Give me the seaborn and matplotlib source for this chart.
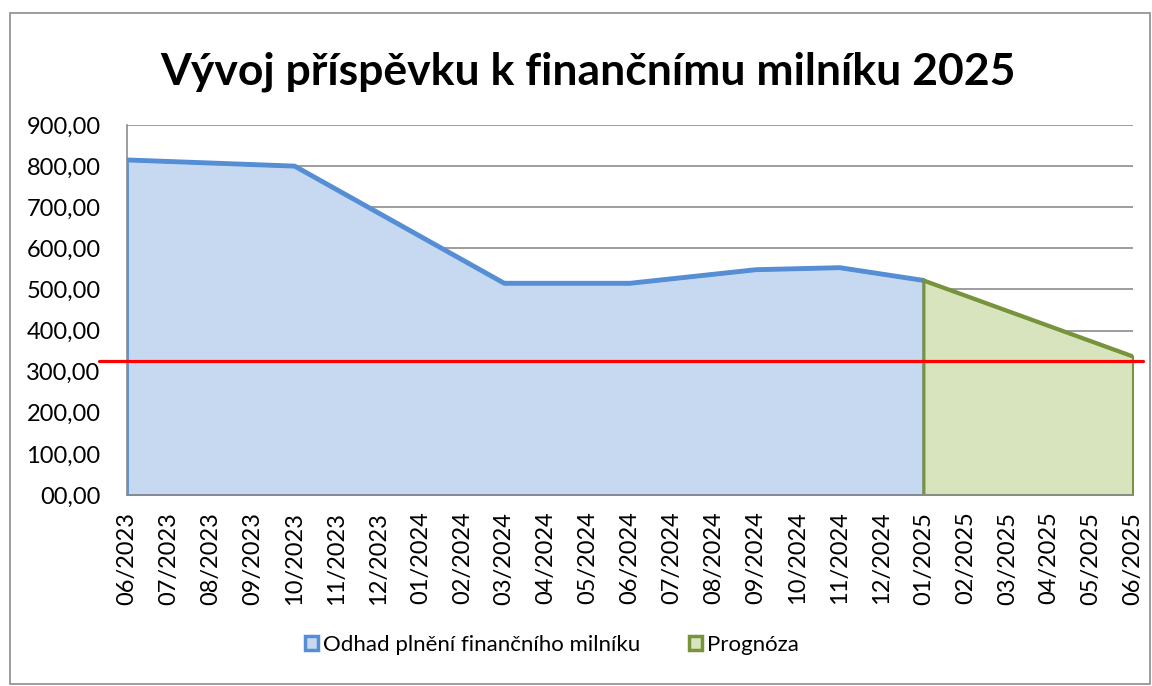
import matplotlib
matplotlib.use('Agg')
import matplotlib.pyplot as plt
import seaborn as sns
from matplotlib.patches import Patch, Rectangle

# měsíce na ose x
mesice = ['06/2023', '07/2023', '08/2023', '09/2023', '10/2023', '11/2023', '12/2023',
          '01/2024', '02/2024', '03/2024', '04/2024', '05/2024', '06/2024', '07/2024',
          '08/2024', '09/2024', '10/2024', '11/2024', '12/2024', '01/2025', '02/2025',
          '03/2025', '04/2025', '05/2025', '06/2025']

# odhad plnění (body zlomu čáry)
odhad_mesice = ['06/2023', '10/2023', '03/2024', '06/2024', '09/2024', '11/2024', '01/2025']
odhad_hodnoty = [815, 800, 515, 515, 548, 553, 522]

# prognóza
prognoza_mesice = ['01/2025', '06/2025']
prognoza_hodnoty = [522, 337]

# hranice milníku
milnik = 327

y_ticks = [0, 100, 200, 300, 400, 500, 600, 700, 800, 900]
y_labels = ['00,00', '100,00', '200,00', '300,00', '400,00', '500,00',
            '600,00', '700,00', '800,00', '900,00']

sns.set_theme(style='white')
plt.rcParams['font.family'] = ['Lato', 'DejaVu Sans']
plt.rcParams['text.color'] = 'black'

modra, modra_vypln = '#558ED5', '#C6D9F1'
zelena, zelena_vypln = '#77933C', '#D7E4BD'

fig = plt.figure(figsize=(11.52, 6.86), dpi=100)
ax = fig.add_axes([127 / 1152, 1 - 495 / 686, 1006 / 1152, 370 / 686])

x_odhad = [mesice.index(m) for m in odhad_mesice]
x_prog = [mesice.index(m) for m in prognoza_mesice]

ax.yaxis.grid(True, color='#8c8c8c', linewidth=1.2)
ax.set_axisbelow(True)

ax.fill_between(x_odhad, odhad_hodnoty, 0, facecolor=modra_vypln, edgecolor=modra,
                linewidth=2, zorder=2)
sns.lineplot(x=x_odhad, y=odhad_hodnoty, color=modra, linewidth=3.5, ax=ax, zorder=3)

ax.fill_between(x_prog, prognoza_hodnoty, 0, facecolor=zelena_vypln, edgecolor=zelena,
                linewidth=2.2, zorder=2)
sns.lineplot(x=x_prog, y=prognoza_hodnoty, color=zelena, linewidth=3, ax=ax, zorder=3)

ax.axhline(milnik, xmin=-0.028, xmax=1.01, color='#FF0000', linewidth=2.3,
           clip_on=False, zorder=4)

ax.set_xlim(0, len(mesice) - 1)
ax.set_ylim(0, 900)
ax.set_xticks(range(len(mesice)))
ax.set_xticklabels(mesice, rotation=90)
ax.set_yticks(y_ticks)
ax.set_yticklabels(y_labels)
ax.tick_params(axis='both', labelsize=17, colors='#8c8c8c', labelcolor='black',
               direction='out', width=1.2)
ax.tick_params(axis='y', length=6, pad=13)
ax.tick_params(axis='x', length=5, pad=7)
for side in ['top', 'right']:
    ax.spines[side].set_visible(False)
for side in ['left', 'bottom']:
    ax.spines[side].set_color('#8c8c8c')
    ax.spines[side].set_linewidth(1.2)
ax.set_xlabel('')
ax.set_ylabel('')

fig.text(0.51, 1 - 84 / 686, 'Vývoj příspěvku k finančnímu milníku 2025',
         ha='center', va='baseline', fontsize=32, fontweight='bold', color='black')

handles = [Patch(facecolor=modra_vypln, edgecolor=modra, linewidth=2.5),
           Patch(facecolor=zelena_vypln, edgecolor=zelena, linewidth=2.5)]
fig.legend(handles, ['Odhad plnění finančního milníku', 'Prognóza'],
           loc='center', bbox_to_anchor=(0.479, 1 - 645 / 686), ncol=2, frameon=False,
           fontsize=16, handlelength=0.6, handleheight=0.6, handletextpad=0.2,
           columnspacing=2.2, labelcolor='black')

fig.patches.append(Rectangle((10 / 1152, 2 / 686), 1140 / 1152, 671 / 686,
                             transform=fig.transFigure, fill=False,
                             edgecolor='#8c8c8c', linewidth=1.2))

fig.savefig('out.png', dpi=100)
